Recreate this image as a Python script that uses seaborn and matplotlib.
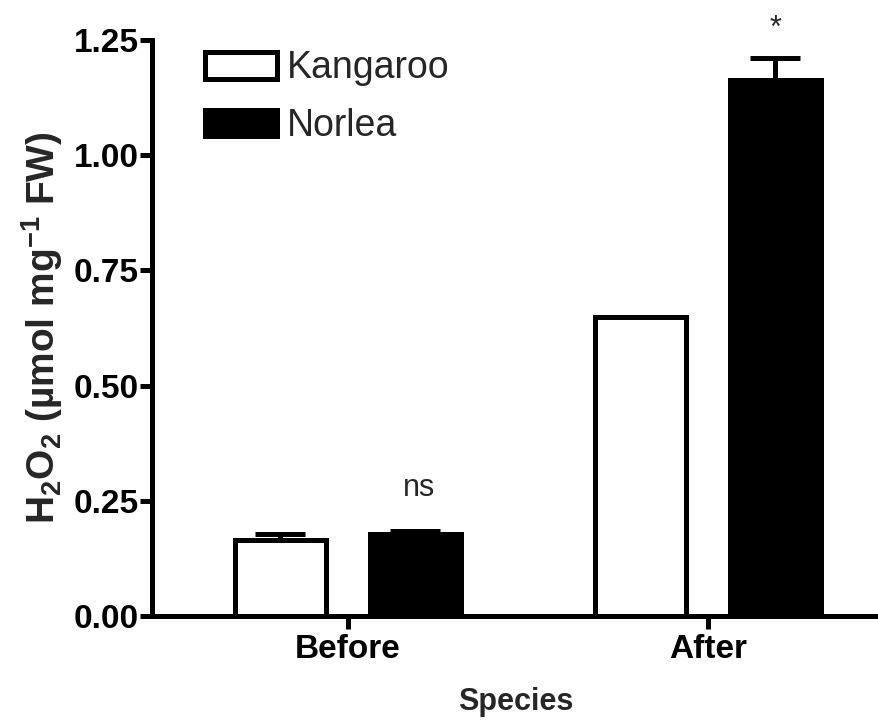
import matplotlib
matplotlib.use("Agg")
import matplotlib.pyplot as plt
import seaborn as sns
import pandas as pd
from matplotlib.patches import Patch

# ---- data ----
periods = ["Before", "After"]
cultivars = ["Kangaroo", "Norlea"]
kangaroo_vals = [0.166, 0.650]
norlea_vals = [0.179, 1.164]
kangaroo_err = [0.013, 0.0]
norlea_err = [0.006, 0.048]
annotations = ["ns", "*"]
y_ticks = [0.00, 0.25, 0.50, 0.75, 1.00, 1.25]

df = pd.DataFrame({
    "Species": periods * 2,
    "Cultivar": [cultivars[0]] * 2 + [cultivars[1]] * 2,
    "H2O2": kangaroo_vals + norlea_vals,
})

sns.set_style("ticks")
plt.rcParams["font.family"] = ["Liberation Sans", "DejaVu Sans"]
plt.rcParams["mathtext.default"] = "regular"

LW = 3.6
fig = plt.figure(figsize=(8.79, 7.25), dpi=100)
ax = fig.add_axes([0.1729, 0.1503, 0.8271, 0.7945])

palette = {"Kangaroo": "white", "Norlea": "black"}
sns.barplot(data=df, x="Species", y="H2O2", hue="Cultivar", order=periods,
            hue_order=cultivars, palette=palette, width=0.75, gap=0.33,
            edgecolor="black", linewidth=LW, errorbar=None, legend=False,
            saturation=1, ax=ax)

errs = [kangaroo_err, norlea_err]
for cont, err in zip(ax.containers, errs):
    xs = [p.get_x() + p.get_width() / 2 for p in cont.patches]
    ys = [p.get_height() for p in cont.patches]
    ax.errorbar(xs, ys, yerr=[[0] * len(err), err], fmt="none", ecolor="black",
                elinewidth=LW, capsize=18, capthick=LW, zorder=5)

# annotations above Norlea bars
nor = ax.containers[1].patches
ax.text(nor[0].get_x() + nor[0].get_width() / 2 + 0.01, 0.278, annotations[0],
        ha="center", va="center", fontsize=22)
ax.text(nor[1].get_x() + nor[1].get_width() / 2, 1.275, annotations[1],
        ha="center", va="center", fontsize=22, clip_on=False)

ax.set_ylim(0, 1.25)
ax.set_xlim(-0.544, 1.475)
ax.set_yticks(y_ticks)
ax.set_yticklabels([f"{v:.2f}" for v in y_ticks])
for lab in ax.get_yticklabels() + ax.get_xticklabels():
    lab.set_fontweight("bold")
    lab.set_fontsize(24)
ax.tick_params(axis="y", length=8.6, width=LW, pad=1, colors="black")
ax.tick_params(axis="x", length=9, width=LW, pad=4, colors="black")

for s in ["left", "bottom"]:
    ax.spines[s].set_linewidth(LW)
    ax.spines[s].set_color("black")
sns.despine(ax=ax)

ax.set_xlabel("Species", fontsize=22, fontweight="bold", labelpad=16)
ax.set_ylabel(r"H$_2$O$_2$ (µmol mg$^{-1}$ FW)", fontsize=28,
              fontweight="bold", labelpad=6)

handles = [Patch(facecolor="white", edgecolor="black", linewidth=LW),
           Patch(facecolor="black", edgecolor="black", linewidth=LW)]
ax.legend(handles, cultivars, loc="upper left", bbox_to_anchor=(0.073, 0.982),
          frameon=False, fontsize=27, handlelength=1.92, handleheight=0.72,
          handletextpad=0.25, labelspacing=0.58, borderpad=0, borderaxespad=0)

fig.savefig("out.png", dpi=100)
